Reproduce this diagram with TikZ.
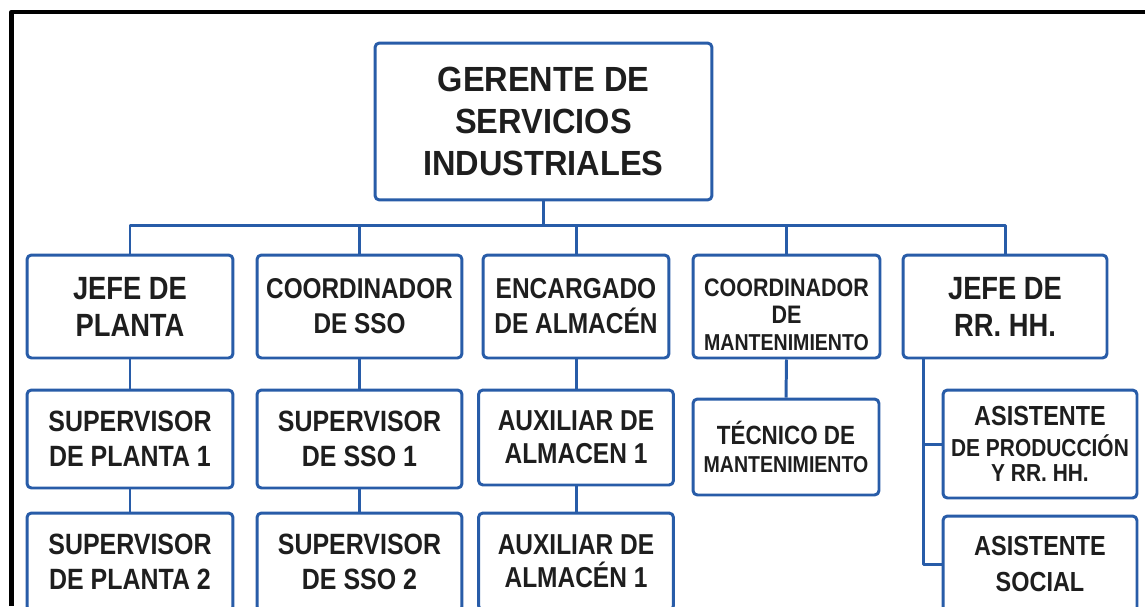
\documentclass[tikz,border=0pt]{standalone}
\usepackage{fontspec}
\setmainfont{Liberation Sans}[FakeStretch=0.85]
\newfontfamily\headfont{Liberation Sans}[FakeStretch=0.93]
\newcommand{\fsz}[2]{\fontsize{#1pt}{#2pt}\selectfont}
\definecolor{orgblue}{RGB}{40,92,168}
\definecolor{orgtext}{RGB}{30,30,30}
\tikzset{
  cargo/.style={draw=orgblue, line width=1.7pt, rounded corners=2.5pt, align=center,
    inner sep=0pt, text=orgtext, font=\bfseries\fsz{16.5}{20}},
  conn/.style={draw=orgblue, line width=1.7pt}
}
\begin{document}
\begin{tikzpicture}[x=0.02cm, y=-0.02cm, line join=round]
\useasboundingbox (0,0) rectangle (1145,606);
% marco
\draw[line width=2.3pt] (11.5,606) -- (11.5,11.7) -- (1145,11.7);
% gerente
\node[cargo, font=\headfont\bfseries\fsz{19.9}{23.8}, minimum width=6.74cm, minimum height=3.14cm] (gerente) at (543.5,121.5) {GERENTE DE\\SERVICIOS\\INDUSTRIALES};
% segundo nivel
\node[cargo, font=\bfseries\fsz{18.3}{21}, minimum width=4.12cm, minimum height=2.06cm] (planta) at (130,306.5) {JEFE DE\\PLANTA};
\node[cargo, font=\bfseries\fsz{16.3}{20}, minimum width=4.10cm, minimum height=2.06cm] (sso) at (359.5,306.5) {COORDINADOR\\DE SSO};
\node[cargo, font=\bfseries\fsz{16.4}{20}, minimum width=3.72cm, minimum height=2.06cm] (alm) at (576,306.5) {ENCARGADO\\DE ALMAC\'EN};
\node[cargo, font=\bfseries\fsz{14.4}{15.2}, minimum width=3.74cm, minimum height=2.06cm] (mant) at (786.5,306.5) {\rule{0pt}{19.5pt}COORDINADOR\\DE\\{\fsz{13.1}{15}MANTENIMIENTO}};
\node[cargo, font=\bfseries\fsz{18.3}{21}, minimum width=4.08cm, minimum height=2.06cm] (rrhh) at (1005,306.5) {JEFE DE\\RR. HH.};
% tercer nivel
\node[cargo, font=\bfseries\fsz{16.7}{20}, minimum width=4.12cm, minimum height=1.96cm] (sup1) at (130,439) {SUPERVISOR\\DE PLANTA 1};
\node[cargo, font=\bfseries\fsz{16.7}{20}, minimum width=4.10cm, minimum height=1.96cm] (sso1) at (359.5,439) {SUPERVISOR\\DE SSO 1};
\node[cargo, font=\bfseries\fsz{16.4}{18.8}, minimum width=3.90cm, minimum height=1.90cm] (aux1) at (576,437.5) {AUXILIAR DE\\ALMACEN 1};
\node[cargo, font=\bfseries\fsz{15}{16}, minimum width=3.72cm, minimum height=1.92cm] (tec) at (786,447) {T\'ECNICO DE\\{\fsz{13.1}{16}MANTENIMIENTO}};
\node[cargo, font=\bfseries\fsz{15.7}{17.6}, minimum width=3.88cm, minimum height=2.16cm] (asis) at (1040,444) {ASISTENTE\\{\fsz{14}{16}DE PRODUCCI\'ON}\\[-3.4pt]{\fsz{14}{16}Y RR. HH.}};
% cuarto nivel
\node[cargo, font=\bfseries\fsz{16.7}{20}, minimum width=4.12cm, minimum height=1.96cm] (sup2) at (130,562) {SUPERVISOR\\DE PLANTA 2};
\node[cargo, font=\bfseries\fsz{16.7}{20}, minimum width=4.10cm, minimum height=1.96cm] (sso2) at (359.5,562) {SUPERVISOR\\DE SSO 2};
\node[cargo, font=\bfseries\fsz{16.4}{18.8}, minimum width=3.90cm, minimum height=1.94cm] (aux2) at (576,561.5) {AUXILIAR DE\\ALMAC\'EN 1};
\node[cargo, font=\bfseries\fsz{15.7}{20.5}, minimum width=3.88cm, minimum height=1.92cm] (social) at (1040,564) {ASISTENTE\\SOCIAL};
% conectores
\coordinate (bus) at (543.5,225);
\draw[conn] (gerente.south) -- (bus);
\foreach \n in {planta,sso,alm,mant,rrhh} \draw[conn] (bus) -| (\n.north);
\foreach \a/\b in {planta/sup1,sup1/sup2,sso/sso1,sso1/sso2,alm/aux1,aux1/aux2,mant/tec} \draw[conn] (\a.south) -- (\b.north);
\coordinate (rhbus) at ([xshift=0.44cm]rrhh.south west);
\foreach \n in {asis,social} \draw[conn] (rhbus) |- (\n.west);
\end{tikzpicture}
\end{document}
